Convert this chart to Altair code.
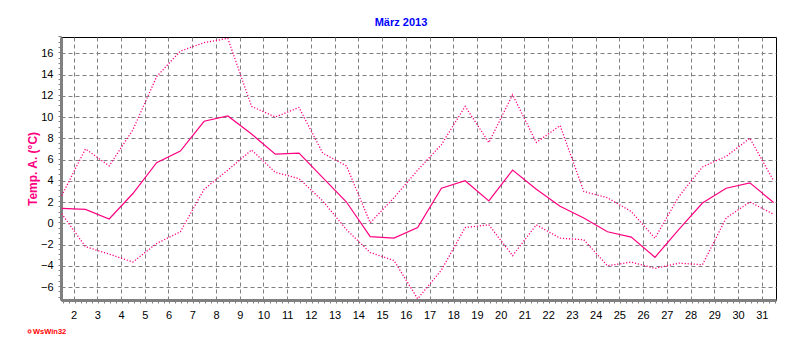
import altair as alt
import pandas as pd

# ---- data ----
TITLE = "März 2013"
Y_TITLE = "Temp. A. (°C)"
FOOTER = "WsWin32"

days = list(range(1, 32))
t_mean = [1.4, 1.3, 0.4, 2.8, 5.7, 6.8, 9.6, 10.1, 8.4, 6.5, 6.6, 4.3, 2.0, -1.25, -1.4,
          -0.4, 3.3, 4.0, 2.1, 5.0, 3.2, 1.6, 0.5, -0.8, -1.3, -3.2, -0.6, 1.9, 3.3, 3.8, 1.95]
t_max = [2.6, 7.0, 5.4, 8.8, 13.8, 16.2, 17.0, 17.4, 11.0, 10.0, 10.9, 6.6, 5.4, 0.05, 2.4,
         5.0, 7.4, 11.0, 7.6, 12.1, 7.6, 9.2, 3.0, 2.4, 1.1, -1.4, 2.5, 5.3, 6.3, 8.0, 4.0]
t_min = [0.9, -2.2, -2.9, -3.65, -1.9, -0.8, 3.2, 5.0, 6.9, 4.8, 4.2, 2.1, -0.6, -2.75, -3.5,
         -7.1, -4.4, -0.4, -0.15, -3.05, -0.15, -1.4, -1.55, -4.0, -3.65, -4.25, -3.75, -3.9, 0.5, 2.0, 0.85]

x_labels = list(range(2, 32))
y_labels = list(range(-6, 17, 2))
x_minor = [1.5 + 0.25 * i for i in range(121)]
y_minor = [-7 + 0.5 * i for i in range(50)]

# ---- table ----
df = pd.DataFrame({"day": days, "mean": t_mean, "max": t_max, "min": t_min})
df["t"] = df["day"] + 0.5  # daily value plotted at midday

LINE = "#FF0080"
GRID = "#808080"
FONT = "Liberation Sans"

xscale = alt.Scale(domain=[1.47, 31.6], nice=False, zero=False)
yscale = alt.Scale(domain=[-7.22, 17.53], nice=False, zero=False)

x_main = alt.Axis(values=x_labels, orient="bottom", title=None, grid=True, gridColor=GRID,
                  gridDash=[4, 3], gridWidth=1, ticks=False, labelPadding=9, labelFontSize=11,
                  labelFont=FONT, labelColor="black", domainColor=GRID, domainWidth=3,
                  labelFlush=False, labelOverlap=False, format="d")
y_main = alt.Axis(values=y_labels, orient="left", title=None, grid=True, gridColor=GRID,
                  gridDash=[4, 3], gridWidth=1, ticks=False, labelPadding=8, labelFontSize=11,
                  labelFont=FONT, labelColor="black", domainColor=GRID, domainWidth=3,
                  labelFlush=False, labelOverlap=False, format="d")
x_min_axis = alt.Axis(values=x_minor, orient="bottom", title=None, grid=False, labels=False,
                      domain=False, ticks=True, tickSize=3, tickColor=GRID, tickWidth=1, tickOffset=1)
y_min_axis = alt.Axis(values=y_minor, orient="left", title=None, grid=False, labels=False,
                      domain=False, ticks=True, tickSize=3, tickColor=GRID, tickWidth=1, tickOffset=-1)

base = alt.Chart(df)

mean_line = base.mark_line(color=LINE, strokeWidth=1.2).encode(
    x=alt.X("t:Q", scale=xscale, axis=x_main),
    y=alt.Y("mean:Q", scale=yscale, axis=y_main),
)
max_line = base.mark_line(color=LINE, strokeWidth=1.3, strokeDash=[1.2, 1.8]).encode(
    x=alt.X("t:Q", scale=xscale, axis=None),
    y=alt.Y("max:Q", scale=yscale, axis=None),
)
min_line = base.mark_line(color=LINE, strokeWidth=1.3, strokeDash=[1.2, 1.8]).encode(
    x=alt.X("t:Q", scale=xscale, axis=x_min_axis),
    y=alt.Y("min:Q", scale=yscale, axis=y_min_axis),
)

labels_df = pd.DataFrame({"title": [TITLE], "ytitle": [Y_TITLE], "footer": [FOOTER]})
lab = alt.Chart(labels_df)

title_txt = lab.mark_text(font=FONT, fontSize=11, fontWeight="bold", color="#0000FF",
                          align="center", baseline="middle").encode(
    text="title:N", x=alt.value(340), y=alt.value(-14))
ytitle_txt = lab.mark_text(font=FONT, fontSize=12, fontWeight="bold", color=LINE,
                           align="center", baseline="middle", angle=270).encode(
    text="ytitle:N", x=alt.value(-28.5), y=alt.value(132))
footer_txt = lab.mark_text(font=FONT, fontSize=7.5, fontWeight="bold", color="#FF0000",
                           align="left", baseline="middle").encode(
    text="footer:N", x=alt.value(-28), y=alt.value(294.5))
footer_dot = lab.mark_point(shape="circle", filled=False, color="#FF0000", size=8,
                            strokeWidth=1.5).encode(x=alt.value(-31.5), y=alt.value(294.5))

chart = alt.layer(
    mean_line, max_line, min_line, title_txt, ytitle_txt, footer_txt, footer_dot
).resolve_axis(x="independent", y="independent").properties(
    width=715, height=263,
    padding={"left": 53, "top": 29, "right": 8, "bottom": 36},
    autosize=alt.AutoSizeParams(type="none"),
    background="white",
).configure_view(stroke="black", strokeWidth=1)

chart.save("out.html", embed_options={"renderer": "svg", "actions": False})
